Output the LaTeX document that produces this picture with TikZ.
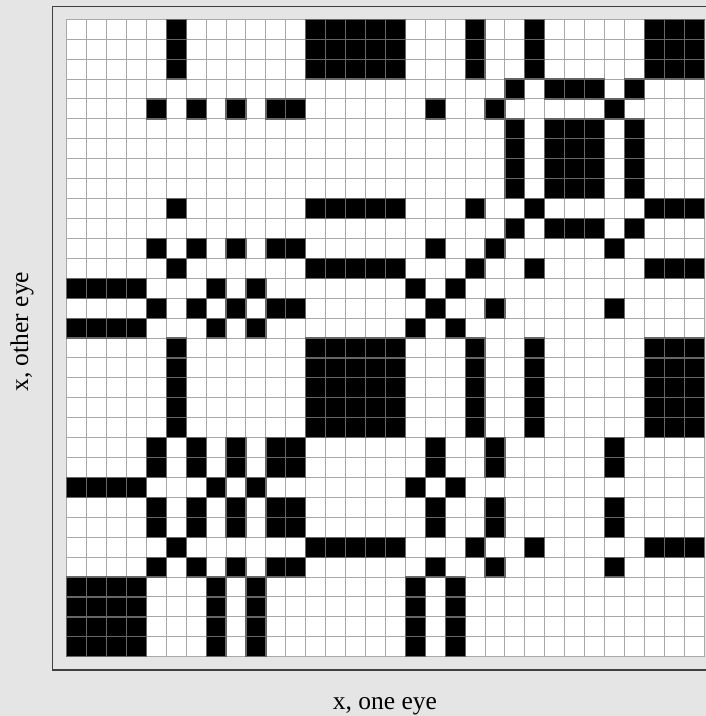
\documentclass[tikz,border=0pt]{standalone}
\usepackage{fontspec}
\setmainfont{Liberation Serif}
\definecolor{bgc}{HTML}{E5E5E5}
\definecolor{gridc}{HTML}{A8A8A8}
\definecolor{framec}{HTML}{404040}
\definecolor{cellborder}{HTML}{666666}
\begin{document}
\begin{tikzpicture}[x=1pt,y=-1pt,
  blackcell/.style={fill=black,draw=cellborder,line width=1.2pt},
  gridline/.style={draw=gridc,line width=1pt},
  lbl/.style={font=\fontsize{25.5}{30}\selectfont,inner sep=0pt}]
\useasboundingbox (0,0) rectangle (706,716);
\fill[bgc] (0,0) rectangle (706,716);
\begin{scope}
\clip (0,0) rectangle (706,716);
\draw[framec,line width=1.5pt] (730,6.7) -- (52.7,6.7) -- (52.7,670) -- (730,670);
\end{scope}
\def\gx{66.7}
\def\gy{19.3}
\def\cs{19.92}
\fill[white] (\gx,\gy) rectangle ++({32*\cs},{32*\cs});
\foreach \i in {0,...,32}{
  \draw[gridline] ({\gx+\i*\cs},\gy) -- ++(0,{32*\cs});
  \draw[gridline] (\gx,{\gy+\i*\cs}) -- ++({32*\cs},0);
}
% row type P
\foreach \r in {0,1,2,9,12,16,17,18,19,20,26}{
  \foreach \c in {5,12,13,14,15,16,20,23,29,30,31}{
    \draw[blackcell] ({\gx+\c*\cs},{\gy+\r*\cs}) rectangle ++(\cs,\cs);
  }
}
% row type Q
\foreach \r in {3,5,6,7,8,10}{
  \foreach \c in {22,24,25,26,28}{
    \draw[blackcell] ({\gx+\c*\cs},{\gy+\r*\cs}) rectangle ++(\cs,\cs);
  }
}
% row type R
\foreach \r in {4,11,14,21,22,24,25,27}{
  \foreach \c in {4,6,8,10,11,18,21,27}{
    \draw[blackcell] ({\gx+\c*\cs},{\gy+\r*\cs}) rectangle ++(\cs,\cs);
  }
}
% row type S
\foreach \r in {13,15,23,28,29,30,31}{
  \foreach \c in {0,1,2,3,7,9,17,19}{
    \draw[blackcell] ({\gx+\c*\cs},{\gy+\r*\cs}) rectangle ++(\cs,\cs);
  }
}
\node[lbl,anchor=base] (xlab) at (385,709) {x, one eye};
\node[lbl,rotate=90,anchor=base] (ylab) at (28,331.7) {x, other eye};
\end{tikzpicture}
\end{document}
